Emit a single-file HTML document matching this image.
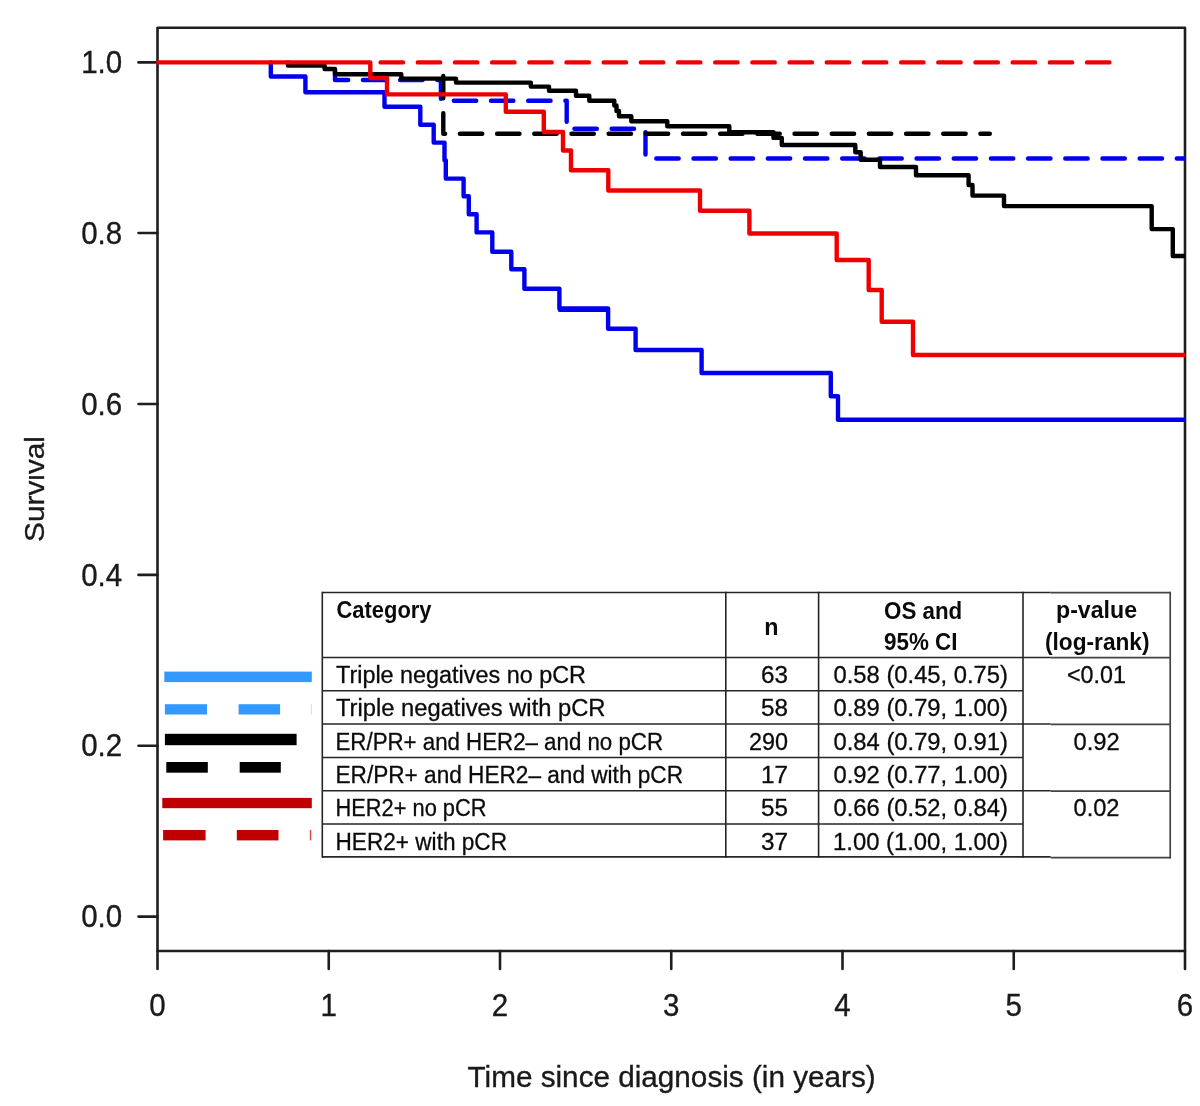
<!DOCTYPE html>
<html><head><meta charset="utf-8">
<style>
html,body{margin:0;padding:0;background:#fff;}
body{width:1200px;height:1106px;overflow:hidden;}
svg{display:block;}
text{font-family:"Liberation Sans",sans-serif;}
svg{will-change:transform;}
</style></head>
<body>
<svg width="1200" height="1106" viewBox="0 0 1200 1106">
<rect x="0" y="0" width="1200" height="1106" fill="#fff"/>
<!-- frame and axes -->
<g fill="none" stroke="#1e1e1e" stroke-width="2.6" stroke-linecap="round" stroke-linejoin="round">
<rect x="157.5" y="27.7" width="1027.5" height="923.3"/>
<path d="M157.5 951V969M328.75 951V969M500 951V969M671.25 951V969M842.5 951V969M1013.75 951V969M1185 951V969"/>
<path d="M138.5 62.4H157.5M138.5 233H157.5M138.5 404H157.5M138.5 574.9H157.5M138.5 745.7H157.5M138.5 916.6H157.5"/>
</g>
<g fill="#1a1a1a" stroke="#1a1a1a" stroke-width="0.35" font-size="29.5" text-anchor="end">
<text transform="translate(122.2,72.9) scale(1,1.04)">1.0</text>
<text transform="translate(122.2,243.6) scale(1,1.04)">0.8</text>
<text transform="translate(122.2,414.6) scale(1,1.04)">0.6</text>
<text transform="translate(122.2,585.5) scale(1,1.04)">0.4</text>
<text transform="translate(122.2,756.3) scale(1,1.04)">0.2</text>
<text transform="translate(122.2,927.2) scale(1,1.04)">0.0</text>
</g>
<g fill="#1a1a1a" stroke="#1a1a1a" stroke-width="0.35" font-size="29.5" text-anchor="middle">
<text transform="translate(157.5,1015.7) scale(1,1.04)">0</text>
<text transform="translate(328.75,1015.7) scale(1,1.04)">1</text>
<text transform="translate(500,1015.7) scale(1,1.04)">2</text>
<text transform="translate(671.25,1015.7) scale(1,1.04)">3</text>
<text transform="translate(842.5,1015.7) scale(1,1.04)">4</text>
<text transform="translate(1013.75,1015.7) scale(1,1.04)">5</text>
<text transform="translate(1185,1015.7) scale(1,1.04)">6</text>
</g>
<text fill="#1a1a1a" stroke="#1a1a1a" stroke-width="0.35" font-size="29.7" text-anchor="middle" transform="translate(671.6,1087.1) scale(1,1.02)">Time since diagnosis (in years)</text>
<text fill="#1a1a1a" stroke="#1a1a1a" stroke-width="0.35" font-size="29.8" text-anchor="middle" transform="translate(43.9,489) rotate(-90) scale(1,0.93)">Survival</text>
<rect x="21" y="474" width="7.6" height="6.5" fill="#fff"/>

<!-- curves -->
<clipPath id="pc"><rect x="156.2" y="20" width="1028.8" height="931"/></clipPath>
<g fill="none" stroke-width="4.4" stroke-linecap="round" stroke-linejoin="round" clip-path="url(#pc)">
<!-- blue solid TN no pCR -->
<path stroke="#0000EE" d="M270.8 62.4V76.5H305.4V92.2H384.5V106.8H420.3V124.8H433.7V142.6H444.5V160.3H445.8V178.6H463.6V196.2H468.8V214.3H476.6V232.4H492.3V251.7H511.3V269.2H524.4V288.8H559.4V308.5H608.1V328.8H635.6V350H701.6V373H830.8V396.3H838V419.8H1190"/>
<path stroke="#0000EE" d="M560 309.9H607.5"/>
<!-- blue dashed TN pCR -->
<path stroke="#0000EE" stroke-dasharray="22.4 14.78" stroke-dashoffset="177.5" d="M335 62.4V80H440.9V100.7H566.7V128.8H645.5V158.5H1190"/>
<!-- black solid -->
<path stroke="#000" d="M288 62.4V65.5H324.6V69H335V74.3H401.3V78.6H456V82.6H530.8V86.6H549V90.7H576V95.7H589.3V100.7H614.3V105.5H616.5V111H619V116.3H631.3V121.3H667.3V126.3H729.3V132.2H773.5V137.9H781.8V145H855.3V152.3H860.7V159.7H880V167H916V175.2H968.6V185H972.5V195.6H1004V206.1H1151.7V229.1H1172.8V256H1190"/>
<!-- black dashed -->
<path stroke="#000" stroke-dasharray="22.4 14.78" stroke-dashoffset="283.9" d="M443.3 62.4V133.7H989.8"/>
<!-- red solid -->
<path stroke="#EE0000" d="M157.5 62.4H370.3V78H387V94.4H505.8V111.7H543.8V132H563V150.5H571V170.3H608.3V190.5H700V210.8H749.4V233.5H836.7V260H868.7V290H881.7V321.7H913V355H1190"/>
<!-- red dashed -->
<path stroke="#EE0000" stroke-dasharray="22.4 14.78" stroke-dashoffset="212.8" d="M370.3 62.4H1112"/>
</g>

<!-- legend swatches -->
<g>
<rect x="164.3" y="671.6" width="147.5" height="10.5" fill="#3399FF"/>
<rect x="164.9" y="704.2" width="42.1" height="10.3" fill="#3399FF"/>
<rect x="238.6" y="704.2" width="41.5" height="10.3" fill="#3399FF"/>
<rect x="310.8" y="704.2" width="1" height="10.3" fill="#3399FF" opacity="0.3"/>
<rect x="164.9" y="733.8" width="131.7" height="11.4" fill="#000"/>
<rect x="166.3" y="762" width="41.5" height="10.7" fill="#000"/>
<rect x="239.7" y="762" width="41.1" height="10.7" fill="#000"/>
<rect x="162.3" y="797.9" width="149.5" height="10.3" fill="#C00000"/>
<rect x="163.1" y="830" width="42.5" height="10.4" fill="#C00000"/>
<rect x="236.8" y="830" width="41.7" height="10.4" fill="#C00000"/>
<rect x="309.8" y="830" width="1.5" height="10.4" fill="#C00000" opacity="0.7"/>
</g>

<!-- table -->
<rect x="322" y="592" width="848" height="264.5" fill="#fff"/>
<g stroke="#262626" stroke-width="1.6" fill="none">
<path d="M322 592.5H1050.7M322 657.5H1050.7M322 690.8H1023M322 724H1050.7M322 757.5H1023M322 790.7H1050.7M322 824H1023M322 856.9H1050.7"/>
<path d="M322.3 591.7V857.7M725.8 591.7V857.7M818.6 591.7V857.7M1023 591.7V857.7"/>
</g>
<g stroke="#444" stroke-width="1.7" fill="none">
<path d="M1050.7 592.7H1170.5M1050.7 657.6H1170.5M1050.7 724.4H1170.5M1050.7 791.2H1170.5M1050.7 857.6H1170.5"/>
<path d="M1170.2 591.8V858.4"/>
</g>
<g fill="#0a0a0a" font-size="23">
<text x="336.50" y="617.70" font-size="23.00" font-weight="bold" textLength="95.00" lengthAdjust="spacingAndGlyphs">Category</text>
<text x="764.25" y="634.50" font-size="23.00" font-weight="bold" textLength="14.25" lengthAdjust="spacingAndGlyphs">n</text>
<text x="884.00" y="618.50" font-size="23.00" font-weight="bold" textLength="78.25" lengthAdjust="spacingAndGlyphs">OS and</text>
<text x="884.00" y="650.20" font-size="23.00" font-weight="bold" textLength="73.50" lengthAdjust="spacingAndGlyphs">95% CI</text>
<text x="1056.00" y="617.80" font-size="23.00" font-weight="bold" textLength="81.00" lengthAdjust="spacingAndGlyphs">p-value</text>
<text x="1045.00" y="650.00" font-size="23.00" font-weight="bold" textLength="104.50" lengthAdjust="spacingAndGlyphs">(log-rank)</text>
<text x="336.00" y="683.00" font-size="23.00" stroke="#111" stroke-width="0.3" textLength="250.00" lengthAdjust="spacingAndGlyphs">Triple negatives no pCR</text>
<text x="336.00" y="716.40" font-size="23.00" stroke="#111" stroke-width="0.3" textLength="269.50" lengthAdjust="spacingAndGlyphs">Triple negatives with pCR</text>
<text x="335.50" y="749.80" font-size="23.00" stroke="#111" stroke-width="0.3" textLength="327.50" lengthAdjust="spacingAndGlyphs">ER/PR+ and HER2– and no pCR</text>
<text x="335.50" y="783.00" font-size="23.00" stroke="#111" stroke-width="0.3" textLength="347.50" lengthAdjust="spacingAndGlyphs">ER/PR+ and HER2– and with pCR</text>
<text x="335.50" y="816.40" font-size="23.00" stroke="#111" stroke-width="0.3" textLength="151.00" lengthAdjust="spacingAndGlyphs">HER2+ no pCR</text>
<text x="335.50" y="849.50" font-size="23.00" stroke="#111" stroke-width="0.3" textLength="171.50" lengthAdjust="spacingAndGlyphs">HER2+ with pCR</text>
<text x="761.00" y="683.00" font-size="23.00" stroke="#111" stroke-width="0.3" textLength="27.00" lengthAdjust="spacingAndGlyphs">63</text>
<text x="761.00" y="716.40" font-size="23.00" stroke="#111" stroke-width="0.3" textLength="27.00" lengthAdjust="spacingAndGlyphs">58</text>
<text x="749.00" y="749.80" font-size="23.00" stroke="#111" stroke-width="0.3" textLength="39.00" lengthAdjust="spacingAndGlyphs">290</text>
<text x="761.00" y="783.00" font-size="23.00" stroke="#111" stroke-width="0.3" textLength="27.00" lengthAdjust="spacingAndGlyphs">17</text>
<text x="761.00" y="816.40" font-size="23.00" stroke="#111" stroke-width="0.3" textLength="27.00" lengthAdjust="spacingAndGlyphs">55</text>
<text x="761.00" y="849.50" font-size="23.00" stroke="#111" stroke-width="0.3" textLength="27.00" lengthAdjust="spacingAndGlyphs">37</text>
<text x="833.50" y="683.00" font-size="23.00" stroke="#111" stroke-width="0.3" textLength="174.50" lengthAdjust="spacingAndGlyphs">0.58 (0.45, 0.75)</text>
<text x="833.50" y="716.40" font-size="23.00" stroke="#111" stroke-width="0.3" textLength="174.50" lengthAdjust="spacingAndGlyphs">0.89 (0.79, 1.00)</text>
<text x="833.50" y="749.80" font-size="23.00" stroke="#111" stroke-width="0.3" textLength="174.50" lengthAdjust="spacingAndGlyphs">0.84 (0.79, 0.91)</text>
<text x="833.50" y="783.00" font-size="23.00" stroke="#111" stroke-width="0.3" textLength="174.50" lengthAdjust="spacingAndGlyphs">0.92 (0.77, 1.00)</text>
<text x="833.50" y="816.40" font-size="23.00" stroke="#111" stroke-width="0.3" textLength="174.50" lengthAdjust="spacingAndGlyphs">0.66 (0.52, 0.84)</text>
<text x="833.00" y="849.50" font-size="23.00" stroke="#111" stroke-width="0.3" textLength="175.00" lengthAdjust="spacingAndGlyphs">1.00 (1.00, 1.00)</text>
<text x="1067.00" y="682.50" font-size="23.00" stroke="#111" stroke-width="0.3" textLength="59.00" lengthAdjust="spacingAndGlyphs">&lt;0.01</text>
<text x="1073.50" y="750.00" font-size="23.00" stroke="#111" stroke-width="0.3" textLength="46.25" lengthAdjust="spacingAndGlyphs">0.92</text>
<text x="1073.50" y="816.40" font-size="23.00" stroke="#111" stroke-width="0.3" textLength="46.00" lengthAdjust="spacingAndGlyphs">0.02</text>
</g>
</svg>
</body></html>
